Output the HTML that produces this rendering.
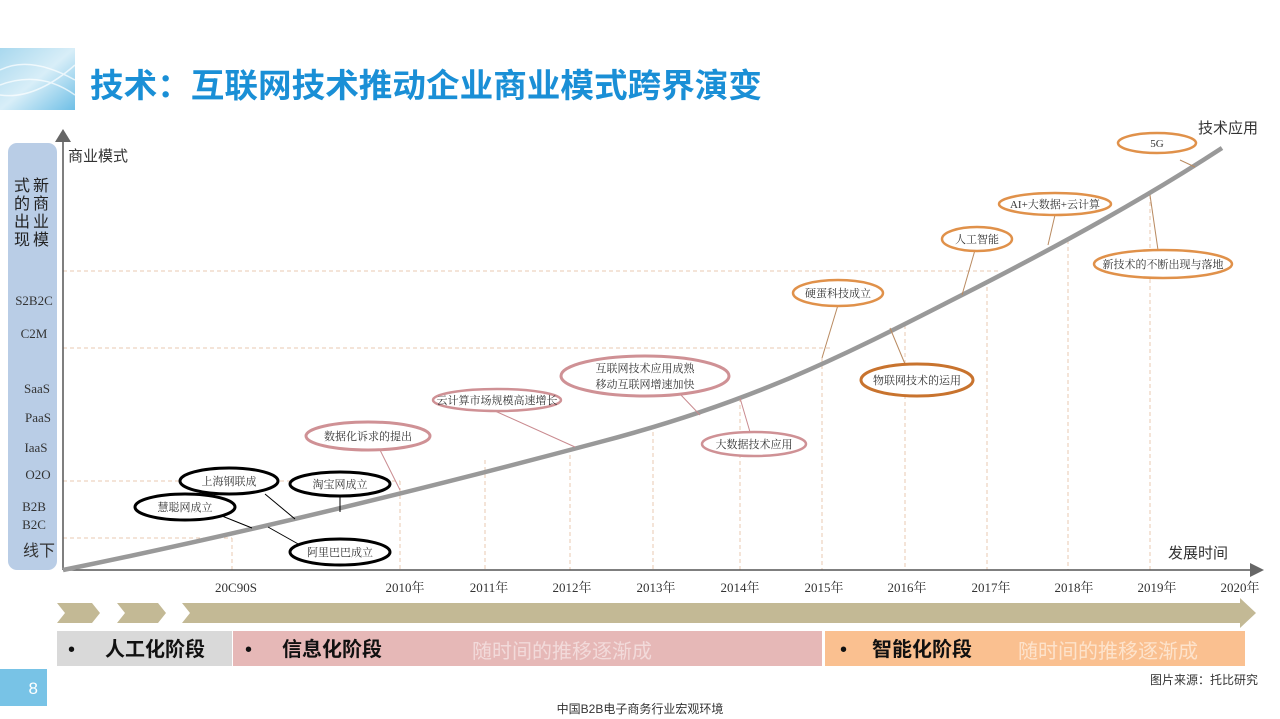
<!DOCTYPE html>
<html><head><meta charset="utf-8"><style>
body{margin:0;width:1280px;height:719px;background:#fff;overflow:hidden;font-family:"Liberation Serif","Noto Serif CJK SC",serif;}
svg{position:absolute;left:0;top:0}
</style></head><body>
<svg width="1280" height="719" viewBox="0 0 1280 719" xmlns="http://www.w3.org/2000/svg">
<defs><linearGradient id="hg" x1="0" y1="0" x2="1" y2="1"><stop offset="0" stop-color="#a8d8ee"/><stop offset="0.5" stop-color="#d8eef8"/><stop offset="1" stop-color="#6fbfe6"/></linearGradient></defs>
<rect x="0" y="48" width="75" height="62" fill="url(#hg)"/>
<path d="M0 70 Q30 55 75 80 M0 85 Q40 70 75 95 M0 95 Q35 100 75 65" stroke="#fff" stroke-width="1.5" fill="none" opacity="0.7"/>
<text x="90" y="97" font-family="'Liberation Sans','Noto Sans CJK SC',sans-serif" font-weight="bold" font-size="33" fill="#1a8fd6" textLength="672" lengthAdjust="spacingAndGlyphs">技术：互联网技术推动企业商业模式跨界演变</text>

<rect x="8" y="143" width="49" height="427" rx="9" fill="#b9cde6"/>
<g font-family="'Liberation Sans','Noto Sans CJK SC',sans-serif" font-size="16" fill="#222">
<text x="33" y="191">新</text><text x="33" y="209">商</text><text x="33" y="227">业</text><text x="33" y="245">模</text>
<text x="14" y="191">式</text><text x="14" y="209">的</text><text x="14" y="227">出</text><text x="14" y="245">现</text>
</g>
<g font-size="13" fill="#333" text-anchor="middle">
<text x="34" y="305">S2B2C</text><text x="34" y="338">C2M</text><text x="37" y="393">SaaS</text><text x="38" y="422">PaaS</text>
<text x="36" y="452">IaaS</text><text x="38" y="479">O2O</text><text x="34" y="511">B2B</text><text x="34" y="529">B2C</text>
<text x="39" y="556" font-size="16" font-family="'Liberation Sans','Noto Sans CJK SC',sans-serif">线下</text>
</g>

<g stroke="#e8c8b0" stroke-dasharray="4,3" stroke-width="1" fill="none">
<line x1="63" y1="271" x2="1000" y2="271"/><line x1="63" y1="348" x2="830" y2="348"/>
<line x1="63" y1="481" x2="400" y2="481"/><line x1="63" y1="538" x2="232" y2="538"/>
<line x1="232" y1="538" x2="232" y2="570"/><line x1="400" y1="481" x2="400" y2="570"/>
<line x1="485" y1="460" x2="485" y2="570"/><line x1="570" y1="448" x2="570" y2="570"/>
<line x1="653" y1="425" x2="653" y2="570"/><line x1="740" y1="398" x2="740" y2="570"/>
<line x1="822" y1="358" x2="822" y2="570"/><line x1="905" y1="325" x2="905" y2="570"/>
<line x1="987" y1="280" x2="987" y2="570"/><line x1="1068" y1="240" x2="1068" y2="570"/>
<line x1="1150" y1="195" x2="1150" y2="570"/>
</g>
<line x1="63" y1="570" x2="63" y2="140" stroke="#555" stroke-width="1.5"/>
<polygon points="55,142 71,142 63,129" fill="#666"/>
<line x1="63" y1="570" x2="1252" y2="570" stroke="#555" stroke-width="1.5"/>
<polygon points="1250,563 1250,577 1264,570" fill="#666"/>
<text x="68" y="161" font-size="15" font-family="'Liberation Sans','Noto Sans CJK SC',sans-serif" fill="#333">商业模式</text>
<text x="1198" y="133" font-size="15" font-family="'Liberation Sans','Noto Sans CJK SC',sans-serif" fill="#333">技术应用</text>
<text x="1168" y="558" font-size="15" font-family="'Liberation Sans','Noto Sans CJK SC',sans-serif" fill="#333">发展时间</text>

<path d="M63 570 C250 532 450 482 600 442 C760 400 850 352 960 296 C1070 240 1150 195 1222 148" stroke="#999" stroke-width="4.5" fill="none"/>

<g font-size="13" fill="#333" text-anchor="middle" font-family="'Liberation Serif','Noto Serif CJK SC',serif">
<text x="236" y="592">20C90S</text><text x="405" y="592">2010年</text><text x="489" y="592">2011年</text><text x="572" y="592">2012年</text>
<text x="656" y="592">2013年</text><text x="740" y="592">2014年</text><text x="824" y="592">2015年</text><text x="907" y="592">2016年</text>
<text x="991" y="592">2017年</text><text x="1074" y="592">2018年</text><text x="1157" y="592">2019年</text><text x="1240" y="592">2020年</text>
</g>

<g fill="none" stroke-width="1">
<line x1="1180" y1="160" x2="1195" y2="167" stroke="#b98a60"/>
<line x1="1055" y1="215" x2="1048" y2="245" stroke="#b98a60"/>
<line x1="975" y1="250" x2="962" y2="295" stroke="#b98a60"/>
<line x1="1150" y1="195" x2="1158" y2="250" stroke="#b98a60"/>
<line x1="838" y1="305" x2="822" y2="358" stroke="#b98a60"/>
<line x1="890" y1="328" x2="905" y2="364" stroke="#b98a60"/>
<line x1="680" y1="394" x2="700" y2="415" stroke="#c98a8f"/>
<line x1="495" y1="411" x2="575" y2="447" stroke="#c98a8f"/>
<line x1="740" y1="398" x2="750" y2="432" stroke="#c98a8f"/>
<line x1="380" y1="450" x2="400" y2="490" stroke="#c98a8f"/>
<line x1="265" y1="494" x2="295" y2="519" stroke="#000"/>
<line x1="340" y1="496" x2="340" y2="512" stroke="#000"/>
<line x1="222" y1="516" x2="252" y2="528" stroke="#000"/>
<line x1="268" y1="527" x2="300" y2="545" stroke="#000"/>
</g>

<g font-size="11" fill="#333" text-anchor="middle" font-family="'Liberation Serif','Noto Serif CJK SC',serif">
<ellipse cx="1157" cy="143" rx="39" ry="10" fill="#fff" stroke="#e0914a" stroke-width="2.5"/><text x="1157" y="147">5G</text>
<ellipse cx="1055" cy="204" rx="56" ry="11" fill="#fff" stroke="#e0914a" stroke-width="2.5"/><text x="1055" y="208">AI+大数据+云计算</text>
<ellipse cx="977" cy="239" rx="35" ry="12" fill="#fff" stroke="#e0914a" stroke-width="2.5"/><text x="977" y="243">人工智能</text>
<ellipse cx="1163" cy="264" rx="69" ry="14" fill="#fff" stroke="#e0914a" stroke-width="2.5"/><text x="1163" y="268">新技术的不断出现与落地</text>
<ellipse cx="838" cy="293" rx="45" ry="13" fill="#fff" stroke="#e0914a" stroke-width="2.5"/><text x="838" y="297">硬蛋科技成立</text>
<ellipse cx="917" cy="380" rx="56" ry="16" fill="#fff" stroke="#c8732e" stroke-width="3"/><text x="917" y="384">物联网技术的运用</text>
<ellipse cx="645" cy="376" rx="84" ry="20" fill="#fff" stroke="#cf9195" stroke-width="3"/><text x="645" y="372">互联网技术应用成熟</text><text x="645" y="388">移动互联网增速加快</text>
<ellipse cx="497" cy="400" rx="64" ry="11" fill="#fff" stroke="#cf9195" stroke-width="2.5"/><text x="497" y="404">云计算市场规模高速增长</text>
<ellipse cx="754" cy="444" rx="52" ry="12" fill="#fff" stroke="#cf9195" stroke-width="2.5"/><text x="754" y="448">大数据技术应用</text>
<ellipse cx="368" cy="436" rx="62" ry="14" fill="#fff" stroke="#cf9195" stroke-width="3"/><text x="368" y="440">数据化诉求的提出</text>
<ellipse cx="229" cy="481" rx="49" ry="13" fill="#fff" stroke="#000" stroke-width="3"/><text x="229" y="485">上海钢联成</text>
<ellipse cx="340" cy="484" rx="50" ry="12" fill="#fff" stroke="#000" stroke-width="3"/><text x="340" y="488">淘宝网成立</text>
<ellipse cx="185" cy="507" rx="50" ry="13" fill="#fff" stroke="#000" stroke-width="3"/><text x="185" y="511">慧聪网成立</text>
<ellipse cx="340" cy="552" rx="50" ry="13" fill="#fff" stroke="#000" stroke-width="3"/><text x="340" y="556">阿里巴巴成立</text>
</g>

<g fill="#c3b995">
<polygon points="57,603 92,603 100,613 92,623 57,623 65,613"/>
<polygon points="117,603 158,603 166,613 158,623 117,623 125,613"/>
<polygon points="182,603 1240,603 1240,598 1256,613 1240,628 1240,623 182,623 190,613"/>
</g>
<rect x="57" y="631" width="175" height="35" fill="#d9d9d9"/>
<rect x="233" y="631" width="589" height="35" fill="#e6b8b7"/>
<rect x="825" y="631" width="420" height="35" fill="#fac090"/>
<g font-family="'Liberation Sans','Noto Sans CJK SC',sans-serif" font-size="20" fill="#111">
<text x="68" y="656">•</text><text x="105" y="656" font-weight="bold">人工化阶段</text>
<text x="245" y="656">•</text><text x="282" y="656" font-weight="bold">信息化阶段</text>
<text x="840" y="656">•</text><text x="872" y="656" font-weight="bold">智能化阶段</text>
<text x="472" y="658" fill="#f2dada">随时间的推移逐渐成</text>
<text x="1018" y="658" fill="#fde3cc">随时间的推移逐渐成</text>
</g>
<rect x="0" y="669" width="47" height="37" fill="#78c3e6"/>
<text x="38" y="694" font-family="'Liberation Sans',sans-serif" font-size="17" fill="#fff" text-anchor="end">8</text>
<text x="1258" y="684" font-family="'Liberation Sans','Noto Sans CJK SC',sans-serif" font-size="12" fill="#333" text-anchor="end">图片来源：托比研究</text>
<text x="640" y="713" font-family="'Liberation Sans','Noto Sans CJK SC',sans-serif" font-size="12" fill="#333" text-anchor="middle">中国B2B电子商务行业宏观环境</text>
</svg>
</body></html>
